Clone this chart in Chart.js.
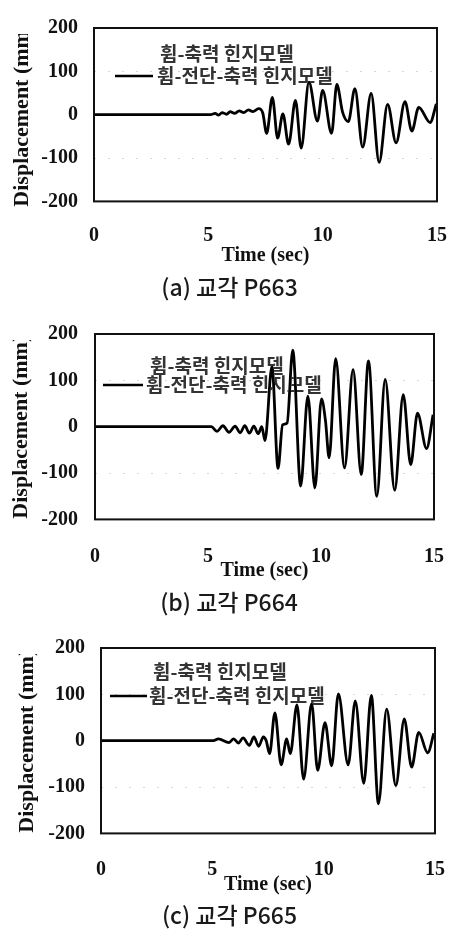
<!DOCTYPE html>
<html>
<head>
<meta charset="utf-8">
<script src="https://cdn.jsdelivr.net/npm/chart.js@4.4.0/dist/chart.umd.min.js"></script>
<style>
  body { margin: 0; background: #fff; width: 469px; height: 930px; position: relative; overflow: hidden; }
  canvas { position: absolute; left: 0; }
</style>
</head>
<body>
<canvas id="chartA" width="469" height="305" style="top:0px"></canvas>
<canvas id="chartB" width="469" height="315" style="top:305px"></canvas>
<canvas id="chartC" width="469" height="310" style="top:620px"></canvas>
<script>
// tick labels and series names
const xTicks = [0, 5, 10, 15];
const yTicks = [-200, -100, 0, 100, 200];
const seriesLabels = ['휨-축력 힌지모델', '휨-전단-축력 힌지모델'];
const captions = ['(a) 교각 P663', '(b) 교각 P664', '(c) 교각 P665'];

// (a) pier P663 (peaks and troughs)
const timeA = [0, 5.1, 5.3, 5.45, 5.6, 5.8, 5.95, 6.15, 6.35, 6.55, 6.75, 6.95, 7.2, 7.38, 7.55, 7.8, 8.03, 8.26, 8.51, 8.81, 9.06, 9.4, 9.77, 10.0, 10.39, 10.62, 10.87, 11.12, 11.41, 11.75, 12.12, 12.47, 12.84, 13.21, 13.6, 13.9, 14.2, 14.7, 14.97];
const dispA = [0, 0, 3, -1, 5, 1, 7, 3, 9, 5, 11, 7, 14, 4, -43, 40, -54, 2, -68, 33, -77, 75, -15, 56, -43, 70, 6, -16, 60, -75, 49, -110, 24, -65, 30, -38, 17, -18, 25];

// (b) pier P664
const timeB = [0, 5.15, 5.4, 5.66, 5.93, 6.2, 6.42, 6.63, 6.83, 7.03, 7.22, 7.38, 7.52, 7.83, 8.1, 8.3, 8.5, 8.75, 9.1, 9.42, 9.73, 10.02, 10.2, 10.36, 10.65, 11.04, 11.42, 11.78, 12.1, 12.47, 12.84, 13.26, 13.64, 13.97, 14.27, 14.67, 14.96];
const dispB = [0, 0, -10, 2, -12, 1, -13, 2, -14, 1, -15, 0, -30, 130, -90, 4, 8, 165, -128, 66, -132, 60, 12, -67, 147, -89, 123, -103, 142, -150, 102, -137, 69, -82, 29, -47, 26];

// (c) pier P665
const timeC = [0, 5.05, 5.27, 5.75, 5.96, 6.17, 6.38, 6.66, 6.87, 7.08, 7.29, 7.42, 7.57, 7.81, 8.09, 8.34, 8.5, 8.8, 9.1, 9.46, 9.73, 10.06, 10.36, 10.66, 11.1, 11.42, 11.8, 12.14, 12.46, 12.83, 13.24, 13.62, 13.95, 14.27, 14.67, 14.95];
const dispC = [0, 0, 4, -4, 4, -5, 6, -10, 8, -12, 8, 0, -28, 60, -52, 4, -28, 77, -83, 80, -64, 39, -54, 101, -52, 86, -92, 98, -136, 68, -97, 47, -57, 18, -26, 16];

const serif20 = { family: "'Liberation Serif', 'Times New Roman', serif", size: 20, weight: 'bold' };
const serif22 = { family: "'Liberation Serif', 'Times New Roman', serif", size: 22, weight: 'bold' };

// hide the top of the y title, it is cut off in the original figure
const titleClip = {
  id: 'titleClip',
  beforeDraw(chart) {
    const { ctx, chartArea, width, height } = chart;
    ctx.save();
    ctx.beginPath();
    ctx.rect(0, chartArea.top + 6, 40, height);
    ctx.rect(40, 0, width - 40, height);
    ctx.clip();
  },
  afterDraw(chart) {
    chart.ctx.restore();
  }
};

// box around the plot area
const frame = {
  id: 'frame',
  afterDatasetsDraw(chart) {
    const { ctx, chartArea: a } = chart;
    ctx.save();
    ctx.strokeStyle = '#111';
    ctx.lineWidth = 2;
    ctx.strokeRect(a.left, a.top, a.right - a.left, a.bottom - a.top);
    ctx.restore();
  }
};

// legend inside the plot, line sample then label
const lineLegend = {
  id: 'lineLegend',
  beforeDatasetsDraw(chart, args, opts) {
    const { ctx, chartArea: a } = chart;
    ctx.save();
    ctx.font = "bold 19px 'Noto Sans CJK KR', sans-serif";
    ctx.textBaseline = 'middle';
    ctx.fillStyle = '#333';
    opts.items.forEach((it, i) => {
      const ds = chart.data.datasets[i];
      const y = a.top + it.y;
      ctx.strokeStyle = ds.borderColor;
      ctx.lineWidth = 2.5;
      ctx.beginPath();
      ctx.moveTo(a.left + it.x0, y);
      ctx.lineTo(a.left + it.x1, y);
      ctx.stroke();
      ctx.fillText(ds.label, a.left + it.tx, y);
    });
    ctx.restore();
  }
};

function makeChart(id, time, disp, caption, L) {
  const pts = time.map((t, i) => ({ x: t, y: disp[i] }));
  const line = (label, color, order) => ({
    label,
    data: pts,
    order,
    borderColor: color,
    borderWidth: 2.8,
    pointRadius: 0,
    cubicInterpolationMode: 'monotone'
  });
  return new Chart(document.getElementById(id), {
    type: 'line',
    data: { datasets: [line(seriesLabels[0], '#ffffff', 2), line(seriesLabels[1], '#000000', 1)] },
    options: {
      responsive: false,
      animation: false,
      devicePixelRatio: 1,
      layout: { padding: { top: L.top, bottom: L.bottom, left: 0, right: L.right } },
      plugins: {
        legend: { display: false },
        tooltip: { enabled: false },
        title: {
          display: true,
          position: 'bottom',
          text: caption,
          color: '#1a1a1a',
          font: { family: "'Noto Sans CJK KR', sans-serif", size: 23, weight: '500' },
          padding: 0
        },
        lineLegend: { items: L.legend }
      },
      scales: {
        x: {
          type: 'linear',
          min: 0,
          max: 15,
          afterBuildTicks: s => { s.ticks = xTicks.map(v => ({ value: v })); },
          afterFit: s => { s.height = L.xh; },
          grid: { display: false, drawTicks: false },
          border: { display: false },
          ticks: { padding: L.xpad, color: '#111', font: serif20, maxRotation: 0 },
          title: { display: true, text: 'Time (sec)', color: '#111', font: serif20, padding: { top: 0, bottom: L.xtitle } }
        },
        y: {
          min: -200,
          max: 200,
          afterBuildTicks: s => { s.ticks = yTicks.map(v => ({ value: v })); },
          afterFit: s => { s.width = L.yw; },
          grid: {
            drawTicks: false,
            lineWidth: 1,
            color: c => Math.abs(c.tick.value) === 100 ? '#d6d6d6' : 'rgba(0,0,0,0)'
          },
          border: { display: false, dash: [2, 12] },
          ticks: { padding: L.ypad, color: '#111', font: serif20 },
          title: { display: true, text: 'Displacement (mm)', color: '#111', font: serif22, padding: { top: L.ytitle, bottom: 0 } }
        }
      }
    },
    plugins: [titleClip, frame, lineLegend]
  });
}

makeChart('chartA', timeA, dispA, captions[0], {
  top: 14, bottom: 4, right: 10, xh: 72, xpad: 22, xtitle: 6, yw: 94, ypad: 16, ytitle: 9,
  legend: [{ x0: 21, x1: 59, tx: 66, y: 26 }, { x0: 21, x1: 59, tx: 63, y: 48 }]
});
makeChart('chartB', timeB, dispB, captions[1], {
  top: 23, bottom: 4, right: 11, xh: 69, xpad: 25, xtitle: 6, yw: 95, ypad: 17, ytitle: 8,
  legend: [{ x0: 8, x1: 48, tx: 55, y: 32 }, { x0: 8, x1: 48, tx: 51, y: 51 }]
});
makeChart('chartC', timeC, dispC, captions[2], {
  top: 23, bottom: 1, right: 10, xh: 68, xpad: 24, xtitle: 5, yw: 101, ypad: 16, ytitle: 14,
  legend: [{ x0: 9, x1: 46, tx: 52, y: 24 }, { x0: 9, x1: 46, tx: 48, y: 48 }]
});
</script>
</body>
</html>
